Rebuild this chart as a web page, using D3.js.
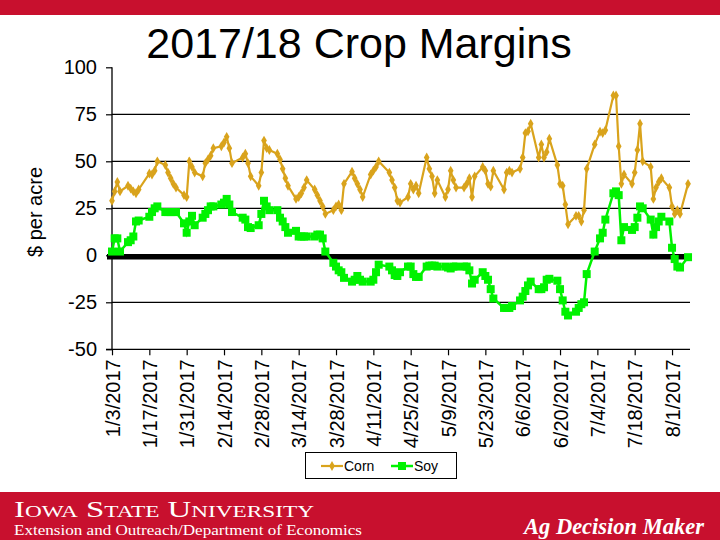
<!DOCTYPE html>
<html>
<head>
<meta charset="utf-8">
<script src="https://cdn.jsdelivr.net/npm/d3@7"></script>
<style>
  html, body { margin: 0; padding: 0; background: #fff; }
  svg { display: block; }
</style>
</head>
<body>
<svg id="chart" width="720" height="540"></svg>
<script>
const titleText = "2017/18 Crop Margins";
const yAxisTitle = "$ per acre";
const seriesNames = ["Corn", "Soy"];

const dates = [
  "1/3/2017","1/4/2017","1/5/2017","1/6/2017","1/9/2017","1/10/2017","1/11/2017","1/12/2017","1/13/2017",
  "1/17/2017","1/18/2017","1/19/2017","1/20/2017","1/23/2017","1/24/2017","1/25/2017","1/26/2017","1/27/2017",
  "1/30/2017","1/31/2017","2/1/2017","2/2/2017","2/3/2017","2/6/2017","2/7/2017","2/8/2017","2/9/2017","2/10/2017",
  "2/13/2017","2/14/2017","2/15/2017","2/16/2017","2/17/2017","2/21/2017","2/22/2017","2/23/2017","2/24/2017",
  "2/27/2017","2/28/2017","3/1/2017","3/2/2017","3/3/2017","3/6/2017","3/7/2017","3/8/2017","3/9/2017","3/10/2017",
  "3/13/2017","3/14/2017","3/15/2017","3/16/2017","3/17/2017","3/20/2017","3/21/2017","3/22/2017","3/23/2017","3/24/2017",
  "3/27/2017","3/28/2017","3/29/2017","3/30/2017","3/31/2017","4/3/2017","4/4/2017","4/5/2017","4/6/2017","4/7/2017",
  "4/10/2017","4/11/2017","4/12/2017","4/13/2017","4/17/2017","4/18/2017","4/19/2017","4/20/2017","4/21/2017",
  "4/24/2017","4/25/2017","4/26/2017","4/27/2017","4/28/2017","5/1/2017","5/2/2017","5/3/2017","5/4/2017","5/5/2017",
  "5/8/2017","5/9/2017","5/10/2017","5/11/2017","5/12/2017","5/15/2017","5/16/2017","5/17/2017","5/18/2017","5/19/2017",
  "5/22/2017","5/23/2017","5/24/2017","5/25/2017","5/26/2017","5/30/2017","5/31/2017","6/1/2017","6/2/2017",
  "6/5/2017","6/6/2017","6/7/2017","6/8/2017","6/9/2017","6/12/2017","6/13/2017","6/14/2017","6/15/2017","6/16/2017",
  "6/19/2017","6/20/2017","6/21/2017","6/22/2017","6/23/2017","6/26/2017","6/27/2017","6/28/2017","6/29/2017","6/30/2017",
  "7/3/2017","7/5/2017","7/6/2017","7/7/2017","7/10/2017","7/11/2017","7/12/2017","7/13/2017","7/14/2017",
  "7/17/2017","7/18/2017","7/19/2017","7/20/2017","7/21/2017","7/24/2017","7/25/2017","7/26/2017","7/27/2017","7/28/2017",
  "7/31/2017","8/1/2017","8/2/2017","8/3/2017","8/4/2017","8/7/2017"
];

const corn = [
  29,34,39,34,37,35.5,34,33,35,
  43.5,43,45,50,48,44,41,38,36,
  32,31,50,47,44,42,49,51,53,57,
  58,60,63,57,49,52,54,49,42,
  37,44,61,57,56,54,51,46,41,37,
  30,31,33,36,40,35,32,29,26,22,
  24,26,27,24,38,44.5,41,38,35,31,
  43,45,47,50,44,40,36,29,28,
  31,38,35,37,33,52,46,42,33,40,
  31,35,45,40,36,36,38,41,31,42,
  47,45,38,36.5,45,35,44,45,44,
  46,52,65,66,70,52,59,52,55,62,
  48,38,37,27,16.5,21,21,18,24,46,
  59,65.7,65,66.5,85,85,58,38,43,
  38,44,56,70,50,47,30,36,39,41,
  36,26,22,24,22,38
];

const soy = [
  2,9,9,2,7,8,10,18,18.5,
  20.5,23,25,26,23,23,23,23,23,
  17,12,18,21,16,20,22,24,26,26,
  27,28,30,27,23,20,19,15,14.5,
  16,22,29,26,24,24,20,18,15,12,
  13,10,10,10,10,10,11,11,9,2,
  -4,-6,-8,-9,-12,-14,-13,-11,-13,-14,
  -14,-13,-9,-5,-6,-8,-10.5,-11,-9,
  -6,-6,-10,-11.5,-11.5,-6,-5.5,-5.5,-5.5,-6,
  -6,-6.5,-7,-6,-6,-6,-6,-8,-15,-13,
  -9,-11,-13,-18,-23,-28,-28,-28,-27,
  -24,-22,-19,-16,-14,-18,-18,-17,-13,-12.5,
  -13.5,-18,-24,-30,-32,-30,-28,-26,-25,-10,
  2,9,12,19,33,34,32,8,15,
  13.5,15,20,26,25,19,11,15,18,20.5,
  18,4,-2,-6,-6.5,-1
];

const xTickLabels = ["1/3/2017","1/17/2017","1/31/2017","2/14/2017","2/28/2017","3/14/2017","3/28/2017",
  "4/11/2017","4/25/2017","5/9/2017","5/23/2017","6/6/2017","6/20/2017","7/4/2017","7/18/2017","8/1/2017"];
const xDomain = ["1/3/2017", "8/8/2017"];
const yTickValues = [100, 75, 50, 25, 0, -25, -50];
const gridValues = [75, 50, 25, -25];
const yDomain = [-50, 100];

const parse = d3.timeParse("%m/%d/%Y");
const svg = d3.select("#chart");
const font = "'Liberation Sans', Arial, sans-serif";
const serif = "'Liberation Serif', 'Times New Roman', serif";
const cornColor = "#D9A31C";
const soyColor = "#00F200";

// top band
svg.append("rect").attr("x", 0).attr("y", 0).attr("width", 720).attr("height", 15).attr("fill", "#C8102E");

// title
svg.append("text").attr("x", 359).attr("y", 58).attr("text-anchor", "middle")
  .attr("font-family", font).attr("font-size", 43).attr("fill", "#000").text(titleText);

const plotL = 112, plotR = 690.7, plotT = 67.3, plotB = 349.3;
const x = d3.scaleTime().domain(xDomain.map(parse)).range([plotL, plotR]);
const y = d3.scaleLinear().domain(yDomain).range([plotB, plotT]);

// gridlines
svg.append("g").selectAll("line").data(gridValues).join("line")
  .attr("x1", plotL).attr("x2", 690).attr("y1", d => y(d)).attr("y2", d => y(d))
  .attr("stroke", "#000").attr("stroke-width", 1.2);

// y axis
const yAxis = d3.axisLeft(y).tickValues(yTickValues).tickSize(6).tickPadding(9).tickFormat(d => String(d));
const gy = svg.append("g").attr("transform", `translate(${plotL},0)`).call(yAxis);
gy.select(".domain").attr("stroke", "#000").attr("stroke-width", 1.3).attr("d", `M-6,${plotB}H0V${plotT}`);
gy.selectAll(".tick line").attr("stroke", "#000").attr("stroke-width", 1.2);
gy.selectAll(".tick text").attr("font-family", font).attr("font-size", 20).attr("fill", "#000");

// x axis
const xAxis = d3.axisBottom(x).tickValues(xTickLabels.map(parse)).tickSize(6).tickFormat((d, i) => xTickLabels[i]);
const gx = svg.append("g").attr("transform", `translate(0,${plotB})`).call(xAxis);
gx.select(".domain").attr("stroke", "#000").attr("stroke-width", 1.2).attr("d", `M${plotL},0H690`);
gx.selectAll(".tick line").attr("stroke", "#000").attr("stroke-width", 1.2);
gx.selectAll(".tick text")
  .attr("font-family", font).attr("font-size", 20).attr("fill", "#000")
  .attr("text-anchor", "end")
  .attr("transform", "translate(0,10) rotate(-90)")
  .attr("x", 0).attr("y", 0).attr("dy", "0.36em");

// y axis title
svg.append("text").attr("transform", "translate(42,212) rotate(-90)").attr("text-anchor", "middle")
  .attr("font-family", font).attr("font-size", 20).attr("fill", "#000").text(yAxisTitle);

// zero line
svg.append("line").attr("x1", 107).attr("x2", 690).attr("y1", y(0) + 1.5).attr("y2", y(0) + 1.5)
  .attr("stroke", "#000").attr("stroke-width", 5.5);

const pts = dates.map((d, i) => ({ date: parse(d), corn: corn[i], soy: soy[i] }));

// soy series
const soyLine = d3.line().x(d => x(d.date)).y(d => y(d.soy));
svg.append("path").datum(pts).attr("d", soyLine).attr("fill", "none")
  .attr("stroke", soyColor).attr("stroke-width", 2.5);
svg.append("g").selectAll("rect").data(pts).join("rect")
  .attr("x", d => x(d.date) - 4).attr("y", d => y(d.soy) - 4)
  .attr("width", 8).attr("height", 8).attr("fill", soyColor);

// corn series
const cornLine = d3.line().x(d => x(d.date)).y(d => y(d.corn));
svg.append("path").datum(pts).attr("d", cornLine).attr("fill", "none")
  .attr("stroke", cornColor).attr("stroke-width", 2.2);
const diamond = d3.symbol().type(d3.symbolDiamond).size(28);
svg.append("g").selectAll("path").data(pts).join("path")
  .attr("transform", d => `translate(${x(d.date)},${y(d.corn)})`)
  .attr("d", diamond).attr("fill", cornColor);

// legend
const lg = svg.append("g");
lg.append("rect").attr("x", 305.5).attr("y", 452.5).attr("width", 151).attr("height", 26)
  .attr("fill", "#fff").attr("stroke", "#000").attr("stroke-width", 1);
lg.append("line").attr("x1", 321).attr("x2", 343).attr("y1", 466).attr("y2", 466).attr("stroke", cornColor).attr("stroke-width", 2.2);
lg.append("path").attr("transform", "translate(332,466)").attr("d", diamond).attr("fill", cornColor);
lg.append("text").attr("x", 344).attr("y", 471).attr("font-family", font).attr("font-size", 14).text(seriesNames[0]);
lg.append("line").attr("x1", 391).attr("x2", 413).attr("y1", 466).attr("y2", 466).attr("stroke", soyColor).attr("stroke-width", 2.5);
lg.append("rect").attr("x", 398).attr("y", 462).attr("width", 8).attr("height", 8).attr("fill", soyColor);
lg.append("text").attr("x", 414).attr("y", 471).attr("font-family", font).attr("font-size", 14).text(seriesNames[1]);

// footer band
svg.append("rect").attr("x", 0).attr("y", 492).attr("width", 720).attr("height", 48).attr("fill", "#C8102E");
svg.append("text").attr("x", 14).attr("y", 517).attr("font-family", serif)
  .attr("font-size", 24).attr("fill", "#fff").style("font-variant", "small-caps")
  .attr("textLength", 300).attr("lengthAdjust", "spacingAndGlyphs").text("Iowa State University");
svg.append("text").attr("x", 14).attr("y", 535).attr("font-family", serif)
  .attr("font-size", 14).attr("fill", "#fff")
  .attr("textLength", 348).attr("lengthAdjust", "spacingAndGlyphs").text("Extension and Outreach/Department of Economics");
svg.append("text").attr("x", 524).attr("y", 534).attr("font-family", serif)
  .attr("font-size", 24).attr("font-weight", "bold").attr("font-style", "italic").attr("fill", "#fff")
  .attr("textLength", 180).attr("lengthAdjust", "spacingAndGlyphs").text("Ag Decision Maker");
</script>
</body>
</html>
